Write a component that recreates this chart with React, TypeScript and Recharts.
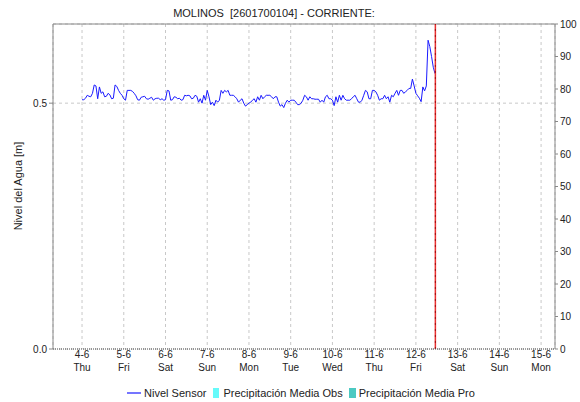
import React from "react";
import {
  ComposedChart,
  Line,
  Bar,
  XAxis,
  YAxis,
  CartesianGrid,
  ReferenceLine,
  Legend,
} from "recharts";

// Nivel Sensor [m], one reading per hour from 4-6 00:00
const nivel = [
  0.507, 0.507, 0.51, 0.516, 0.514, 0.513, 0.52, 0.537, 0.535, 0.509, 0.533, 0.52, 0.523, 0.513, 0.514, 0.52, 0.517, 0.509, 0.51, 0.537,
  0.534, 0.526, 0.52, 0.516, 0.509, 0.506, 0.526, 0.526, 0.526, 0.524, 0.52, 0.515, 0.507, 0.506, 0.512, 0.513, 0.514, 0.509, 0.508, 0.51,
  0.512, 0.506, 0.509, 0.51, 0.51, 0.507, 0.509, 0.506, 0.507, 0.526, 0.525, 0.506, 0.507, 0.513, 0.512, 0.509, 0.51, 0.506, 0.507, 0.516,
  0.515, 0.516, 0.515, 0.509, 0.51, 0.516, 0.514, 0.502, 0.509, 0.5, 0.516, 0.506, 0.526, 0.513, 0.497, 0.502, 0.495, 0.506, 0.502, 0.506,
  0.526, 0.52, 0.526, 0.523, 0.526, 0.516, 0.516, 0.516, 0.513, 0.509, 0.502, 0.506, 0.509, 0.5, 0.494, 0.497, 0.5, 0.502, 0.506, 0.509,
  0.502, 0.513, 0.506, 0.516, 0.509, 0.513, 0.516, 0.516, 0.516, 0.513, 0.509, 0.513, 0.513, 0.502, 0.494, 0.497, 0.491, 0.5, 0.506, 0.502,
  0.506, 0.506, 0.506, 0.502, 0.497, 0.497, 0.5, 0.506, 0.516, 0.513, 0.506, 0.513, 0.509, 0.509, 0.508, 0.508, 0.508, 0.502, 0.506, 0.502,
  0.513, 0.516, 0.509, 0.509, 0.506, 0.495, 0.513, 0.502, 0.516, 0.506, 0.516, 0.509, 0.506, 0.506, 0.506, 0.509, 0.513, 0.516, 0.509, 0.502,
  0.502, 0.506, 0.516, 0.526, 0.523, 0.509, 0.509, 0.526, 0.526, 0.523, 0.516, 0.506, 0.509, 0.509, 0.516, 0.509, 0.513, 0.502, 0.516, 0.513,
  0.52, 0.526, 0.516, 0.526, 0.526, 0.52, 0.523, 0.526, 0.53, 0.53, 0.549, 0.535, 0.52, 0.515, 0.51, 0.503, 0.533, 0.525, 0.535, 0.628,
  0.615, 0.595, 0.573, 0.56,
];

const dayTicks = [0, 24, 48, 72, 96, 120, 144, 168, 192, 216, 240, 264];
const dayLabels = ["4-6", "5-6", "6-6", "7-6", "8-6", "9-6", "10-6", "11-6", "12-6", "13-6", "14-6", "15-6"];
const weekDays = ["Thu", "Fri", "Sat", "Sun", "Mon", "Tue", "Wed", "Thu", "Fri", "Sat", "Sun", "Mon"];
const leftTicks = [0, 0.5];
const rightTicks = [0, 10, 20, 30, 40, 50, 60, 70, 80, 90, 100];
const nowHour = 203.2;

const data = nivel.map((v, i) => ({
  hour: i,
  nivel: v,
  precipObs: 0,
  precipPro: 0,
}));

const FONT = "'Liberation Sans', Arial, sans-serif";
const LEVEL_MAX = 0.661;

const DayTick = ({ x, y, payload }: any) => {
  const i = dayTicks.indexOf(payload.value);
  return (
    <g transform={`translate(${x},${y})`}>
      <text textAnchor="middle" fontSize={10} fill="#222" fontFamily={FONT}>
        <tspan x={0} dy={1}>{dayLabels[i]}</tspan>
        <tspan x={0} dy={13}>{weekDays[i]}</tspan>
      </text>
    </g>
  );
};

const renderLegend = () => (
  <div
    style={{
      display: "flex",
      justifyContent: "center",
      alignItems: "center",
      height: 16,
      fontSize: 11,
      fontFamily: FONT,
      color: "#222",
      paddingLeft: 22,
    }}
  >
    <svg width={14} height={10} style={{ marginRight: 3 }}>
      <line x1={0} y1={5} x2={14} y2={5} stroke="#1a1aff" strokeWidth={1.2} />
    </svg>
    <span style={{ marginRight: 7 }}>Nivel Sensor</span>
    <span style={{ display: "inline-block", width: 6, height: 10, background: "#66fafa", marginRight: 4 }} />
    <span style={{ marginRight: 6 }}>Precipitación Media Obs</span>
    <span style={{ display: "inline-block", width: 7, height: 10, background: "#4cc9c2", marginRight: 3 }} />
    <span>Precipitación Media Pro</span>
  </div>
);

export default function App() {
  return (
    <div style={{ position: "absolute", left: 0, top: 0, background: "#fff" }}>
      <ComposedChart
        width={580}
        height={402}
        data={data}
        margin={{ top: 24, right: 0, bottom: 1, left: 8 }}
      >
        <text x={274} y={17} textAnchor="middle" fontSize={11} fill="#222" fontFamily={FONT}>
          {"MOLINOS\u00a0 [2601700104] - CORRIENTE:"}
        </text>
        <CartesianGrid stroke="#c8c8c8" strokeDasharray="3 3" yAxisId="left" />
        <XAxis
          dataKey="hour"
          type="number"
          domain={[-16.7, 272]}
          ticks={dayTicks}
          interval={0}
          tick={<DayTick />}
          tickLine={false}
          axisLine={{ stroke: "#444", strokeDasharray: "1 1" }}
          height={36}
          allowDataOverflow
        />
        <YAxis
          yAxisId="left"
          domain={[0, LEVEL_MAX]}
          ticks={leftTicks}
          tickFormatter={(v: number) => v.toFixed(1)}
          tick={{ fontSize: 10, fill: "#222", fontFamily: FONT }}
          tickLine={{ stroke: "#888" }}
          tickSize={4}
          tickMargin={2}
          axisLine={{ stroke: "#888" }}
          width={45}
          allowDataOverflow
          label={{
            content: () => (
              <text
                x={22}
                y={186}
                transform="rotate(-90 22 186)"
                textAnchor="middle"
                fontSize={11}
                fill="#222"
                fontFamily={FONT}
              >
                Nivel del Agua [m]
              </text>
            ),
          }}
        />
        <YAxis
          yAxisId="right"
          orientation="right"
          type="number"
          domain={[0, 100]}
          ticks={rightTicks}
          tick={{ fontSize: 10, fill: "#222", fontFamily: FONT }}
          tickLine={{ stroke: "#888" }}
          tickSize={3}
          tickMargin={2}
          axisLine={{ stroke: "#888" }}
          width={25}
        />
        <ReferenceLine yAxisId="left" y={LEVEL_MAX} stroke="#888" />
        <Bar yAxisId="right" dataKey="precipObs" name="Precipitación Media Obs" fill="#66fafa" isAnimationActive={false} />
        <Bar yAxisId="right" dataKey="precipPro" name="Precipitación Media Pro" fill="#4cc9c2" isAnimationActive={false} />
        <Line
          yAxisId="left"
          type="linear"
          dataKey="nivel"
          name="Nivel Sensor"
          stroke="#1a1aff"
          strokeWidth={1}
          dot={false}
          isAnimationActive={false}
        />
        <ReferenceLine yAxisId="left" x={nowHour} stroke="#e83030" strokeWidth={1.5} />
        <ReferenceLine yAxisId="left" x={nowHour} stroke="#a01010" strokeWidth={1} strokeDasharray="2 4" />
        <Legend
          verticalAlign="bottom"
          content={renderLegend}
          wrapperStyle={{ left: 0, width: 580 }}
        />
      </ComposedChart>
    </div>
  );
}
